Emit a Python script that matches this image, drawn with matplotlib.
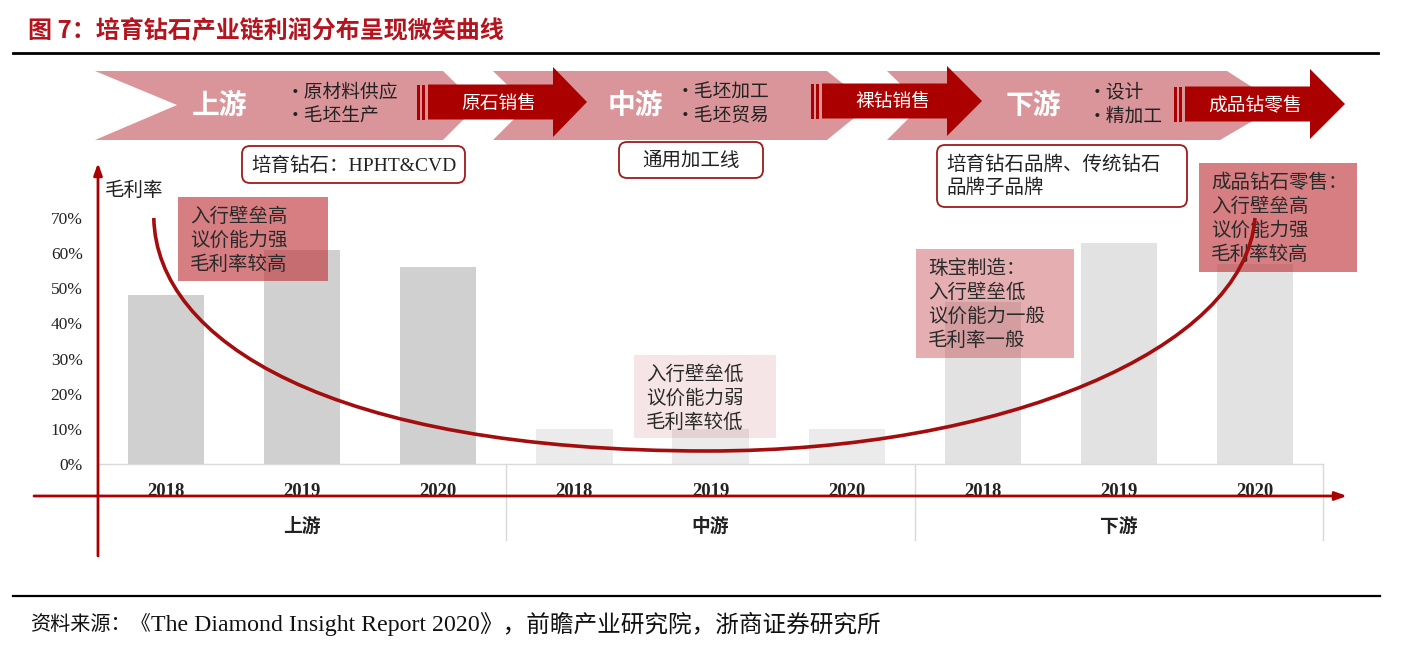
import numpy as np
import matplotlib.pyplot as plt
from matplotlib.patches import Polygon, Rectangle, FancyBboxPatch, PathPatch
from matplotlib.path import Path

''' Smile curve of lab-grown diamond industry chain margins.
    Grey bars: gross margin per stage and year, red curve: the smile. '''

plt.rcParams['font.family'] = ['Noto Sans CJK SC', 'DejaVu Sans']

# ---- data ----
stages = ['上游', '中游', '下游']
years = ['2018', '2019', '2020']
upstream = [0.48, 0.61, 0.56]
midstream = [0.10, 0.10, 0.10]
downstream = [0.46, 0.63, 0.57]
yticks = [0.0, 0.1, 0.2, 0.3, 0.4, 0.5, 0.6, 0.7]
ytick_labels = ['0%', '10%', '20%', '30%', '40%', '50%', '60%', '70%']

# smile curve: two cubic bezier pieces (slot position, gross margin)
smile_x = [0.41, 0.43, 1.70, 4.48, 6.63, 8.43, 8.50]
smile_y = [0.70, 0.35, 0.037, 0.037, 0.037, 0.324, 0.70]

chain_steps = ['上游', '中游', '下游']
chain_bullets = [['•原材料供应', '•毛坯生产'], ['•毛坯加工', '•毛坯贸易'], ['•设计', '•精加工']]
sales_steps = ['原石销售', '裸钻销售', '成品钻零售']
step_notes = ['培育钻石：HPHT&CVD', '通用加工线', '培育钻石品牌、传统钻石\n品牌子品牌']
margin_notes = ['入行壁垒高\n议价能力强\n毛利率较高',
                '入行壁垒低\n议价能力弱\n毛利率较低',
                '珠宝制造：\n入行壁垒低\n议价能力一般\n毛利率一般',
                '成品钻石零售：\n入行壁垒高\n议价能力强\n毛利率较高']
source_parts = ['资料来源：《', 'The Diamond Insight Report 2020', '》，前瞻产业研究院，浙商证券研究所']

W, H = 1407, 652
DARK = '#aa0000'
PINK = '#d9959a'
TXT = '#222222'
SERIF = ['Liberation Serif', 'Noto Sans CJK SC']


def fig_rect(x0, y0, x1, y1):
    ''' pixel box (top-left origin) -> figure fraction rect '''
    return [x0 / W, (H - y1) / H, (x1 - x0) / W, (y1 - y0) / H]


def sale_arrow(ov, x0, xh, tip, yc, label):
    body = 17.5
    head = 35
    pts = [(x0, yc - body), (xh, yc - body), (xh, yc - head), (tip, yc),
           (xh, yc + head), (xh, yc + body), (x0, yc + body)]
    ov.add_patch(Polygon(pts, closed=True, fc=DARK, ec='none', zorder=3))
    for dx in (-11, -6):
        ov.add_patch(Rectangle((x0 + dx, yc - body), 3, 2 * body, fc=DARK,
                               ec='none', zorder=3))
    ov.text((x0 + xh) / 2 + 8, yc + 1, label, color='white', fontsize=13.5,
            ha='center', va='center', zorder=4)


fig = plt.figure(figsize=(W / 100, H / 100), dpi=100)

# ---- bar chart ----
ax = fig.add_axes(fig_rect(98, 218, 1323, 464), zorder=1)
values = upstream + midstream + downstream
colors = ['#d0d0d0'] * 3 + ['#ebebeb'] * 3 + ['#e2e2e2'] * 3
pos = np.arange(len(values)) + 0.5
ax.bar(pos, values, width=0.56, color=colors)
ax.set_xlim(0, 9)
ax.set_ylim(0, 0.7)
ax.set_yticks(yticks)
ax.set_yticklabels(ytick_labels, family=SERIF, fontsize=12.5, color=TXT)
ax.set_xticks(pos)
ax.set_xticklabels(years * 3, family=SERIF, fontsize=13.5, fontweight='bold',
                   color=TXT)
ax.tick_params(axis='y', length=0, pad=11)
ax.tick_params(axis='x', length=0, pad=14)
for s in ['top', 'right', 'left']:
    ax.spines[s].set_visible(False)
ax.spines['bottom'].set_color('#d9d9d9')
ax.spines['bottom'].set_linewidth(1)
for i, st in enumerate(stages):
    ax.text(i * 3 + 1.5, -0.176, st, fontsize=13.5, fontweight='bold',
            ha='center', va='center', color=TXT)
for k in range(1, 4):
    ax.plot([3 * k, 3 * k], [0, -0.216], color='#d9d9d9', lw=1, clip_on=False)

# ---- overlay in pixel coordinates ----
ov = fig.add_axes([0, 0, 1, 1], zorder=2)
ov.set_xlim(0, W)
ov.set_ylim(H, 0)
ov.axis('off')
ov.patch.set_alpha(0)

# title and rules
ov.text(28, 30, '图 7：培育钻石产业链利润分布呈现微笑曲线', fontsize=17.3,
        fontweight='bold', color='#b4141e', va='center', ha='left')
ov.plot([13, 1378], [53, 53], color='black', lw=2)
ov.plot([13, 1380], [596, 596], color='black', lw=1.6)

# source line, laid out in three runs one after another
renderer = fig.canvas.get_renderer()
x = 30
for part, size, fam in zip(source_parts, [14.5, 17.2, 17],
                           [None, SERIF, None]):
    kw = {'family': fam} if fam else {}
    t = ov.text(x, 625, part, fontsize=size, va='center', ha='left',
                color='#111111', **kw)
    x = t.get_window_extent(renderer).x1

# chevron band
chevrons = [[(95, 71), (443, 71), (478, 105), (443, 140), (95, 140), (177, 105)],
            [(493, 71), (827, 71), (870, 105), (827, 140), (493, 140), (528, 105)],
            [(887, 71), (1227, 71), (1280, 105), (1220, 140), (887, 140), (922, 105)]]
for pts in chevrons:
    ov.add_patch(Polygon(pts, closed=True, fc=PINK, ec='none', zorder=2))

step_x = [220, 635, 1033]
bullet_x = [286, 676, 1088]
for i in range(3):
    ov.text(step_x[i], 106, chain_steps[i], color='white', fontsize=20,
            fontweight='bold', ha='center', va='center', zorder=4)
    ov.text(bullet_x[i], 92, chain_bullets[i][0], color=TXT, fontsize=13.5,
            ha='left', va='center', zorder=4)
    ov.text(bullet_x[i], 116, chain_bullets[i][1], color=TXT, fontsize=13.5,
            ha='left', va='center', zorder=4)

sale_arrow(ov, 428, 553, 587, 102, sales_steps[0])
sale_arrow(ov, 822, 947, 982, 101, sales_steps[1])
sale_arrow(ov, 1185, 1310, 1345, 104, sales_steps[2])

# rounded note boxes
note_boxes = [(242, 146, 465, 183), (619, 142, 763, 178), (937, 145, 1187, 207)]
for (x0, y0, x1, y1), note in zip(note_boxes, step_notes):
    ov.add_patch(FancyBboxPatch((x0, y0), x1 - x0, y1 - y0,
                                boxstyle='round,pad=0,rounding_size=8',
                                fc='white', ec='#a01a1a', lw=1.3, zorder=3))
    if '\n' in note:
        ov.text(x0 + 9, (y0 + y1) / 2, note, family=SERIF, fontsize=14,
                ha='left', va='center', linespacing=1.35, color=TXT, zorder=4)
    else:
        ov.text((x0 + x1) / 2, (y0 + y1) / 2 + 1, note, family=SERIF,
                fontsize=14, ha='center', va='center', color=TXT, zorder=4)

# shaded margin notes
margin_boxes = [(178, 197, 328, 281, 0.65), (634, 355, 776, 438, 0.13),
                (916, 249, 1074, 358, 0.40), (1199, 163, 1357, 272, 0.65)]
for (x0, y0, x1, y1, a), note in zip(margin_boxes, margin_notes):
    ov.add_patch(Rectangle((x0, y0), x1 - x0, y1 - y0, fc='#c0393f', alpha=a,
                           ec='none', zorder=3))
    ov.text(x0 + 12, y0 + 9, note, fontsize=14, ha='left', va='top',
            linespacing=1.18, color='#2a2a2a', zorder=4)

# axes arrows
ov.annotate('', xy=(98, 163), xytext=(98, 556),
            arrowprops=dict(arrowstyle='-|>,head_length=0.7,head_width=0.25',
                            color=DARK, lw=2, shrinkA=0, shrinkB=0), zorder=5)
ov.annotate('', xy=(1347, 496), xytext=(34, 496),
            arrowprops=dict(arrowstyle='-|>,head_length=0.7,head_width=0.25',
                            color=DARK, lw=2, shrinkA=0, shrinkB=0), zorder=5)
ov.text(105, 190, '毛利率', fontsize=14, ha='left', va='center', color=TXT)

# smile curve drawn in bar data coordinates
codes = [Path.MOVETO] + [Path.CURVE4] * 6
smile = Path(list(zip(smile_x, smile_y)), codes)
ov.add_patch(PathPatch(smile, fc='none', ec='#a30d0d', lw=2.6,
                       transform=ax.transData, clip_on=False, zorder=6))

fig.savefig('out.png', dpi=100)
